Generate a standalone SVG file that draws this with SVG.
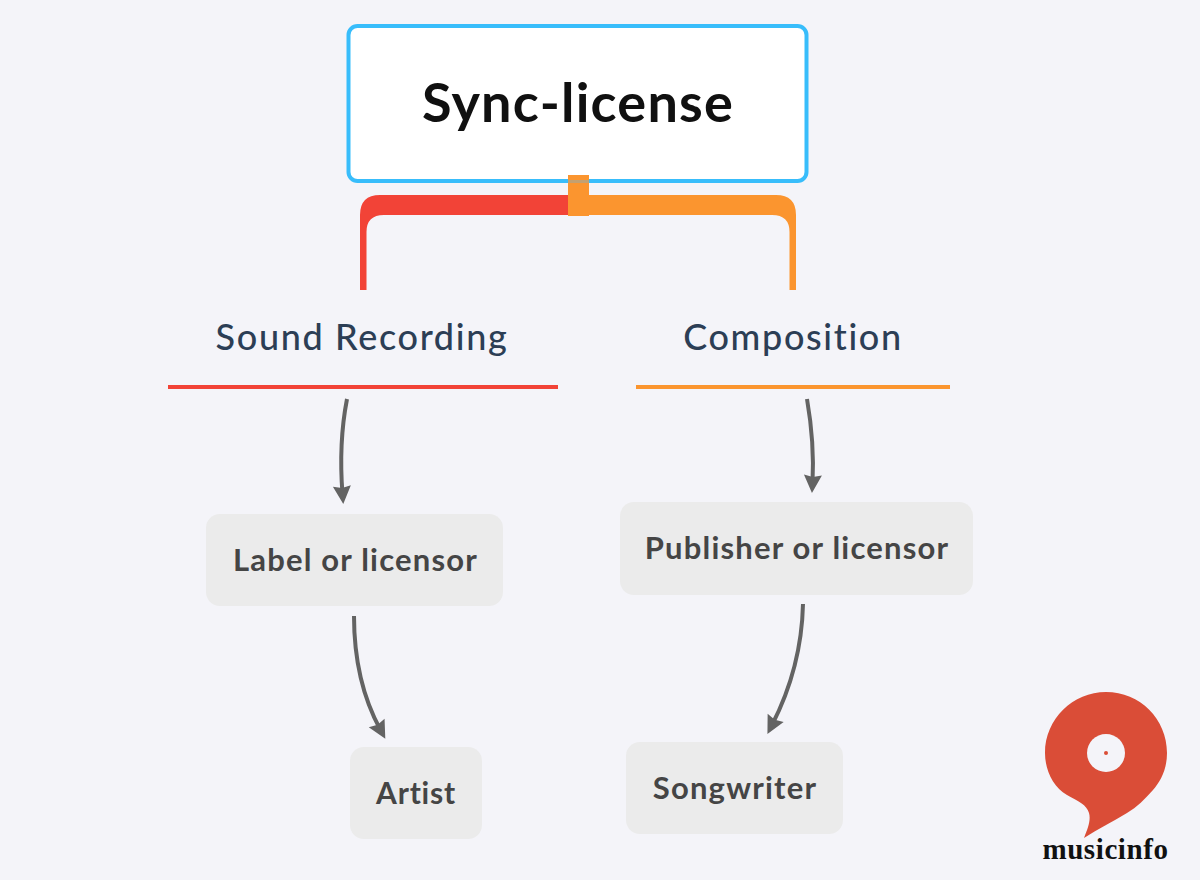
<svg xmlns="http://www.w3.org/2000/svg" width="1200" height="880" viewBox="0 0 1200 880">
<defs>
<marker id="ah" markerUnits="userSpaceOnUse" markerWidth="24" markerHeight="24" refX="9" refY="10" orient="auto"><path d="M1 1 L19 10 L1 19 L3 10 Z" fill="#636363"/></marker>
</defs>
<style>
text{font-family:"Lato","Open Sans",sans-serif}
.child{fill:#ebebeb}
.ct{font-size:31px;font-weight:700;fill:#454545;text-anchor:middle;letter-spacing:1.2px}
.st{font-size:36px;font-weight:500;fill:#2c3e55;text-anchor:middle;letter-spacing:1.65px}
.arrow{fill:none;stroke:#636363;stroke-width:4;marker-end:url(#ah)}
</style>
<rect width="1200" height="880" fill="#f4f4f9"/>
<g id="connectors">
<path d="M578 195 H380 Q360 195 360 215 V290 H366.500 V232 Q366.500 215 384 215 H578 Z" fill="#f24337"/>
<path d="M578 195 H776 Q796 195 796 215 V290 H789.500 V232 Q789.500 215 772 215 H578 Z" fill="#fb952f"/>
<path class="arrow" d="M347 399 C341 430 340 462 342.500 494"/>
<path class="arrow" d="M807 399 C812 428 814 455 812.500 483"/>
<path class="arrow" d="M354 616 C354 662 363 698 380.500 730"/>
<path class="arrow" d="M803 604 C802 648 791 688 772 725"/>
</g>
<g id="root">
<rect x="348.500" y="26" width="458" height="155" rx="9" fill="#fff" stroke="#38bdfb" stroke-width="4"/>
<text x="578" y="122" font-size="54" font-weight="700" fill="#101010" text-anchor="middle" letter-spacing="1.2">Sync-license</text>
</g>
<rect x="568" y="175" width="21" height="41" fill="#fb952f"/>
<rect x="568" y="180" width="21" height="3" fill="#9fa99f" opacity=".6"/>
<g id="sound-recording">
<text class="st" x="362" y="350">Sound Recording</text>
<rect x="168" y="385" width="390" height="4" fill="#f24337"/>
</g>
<g id="composition">
<text class="st" x="793" y="350">Composition</text>
<rect x="636" y="385" width="314" height="4" fill="#fb952f"/>
</g>
<g id="label">
<rect class="child" x="206" y="514" width="297" height="92" rx="14"/>
<text class="ct" x="355.500" y="571">Label or licensor</text>
</g>
<g id="publisher">
<rect class="child" x="620" y="502" width="353" height="93" rx="14"/>
<text class="ct" x="797" y="559">Publisher or licensor</text>
</g>
<g id="artist">
<rect class="child" x="350" y="747" width="132" height="92" rx="14"/>
<text class="ct" x="416" y="804" style="font-size:30px;letter-spacing:.8px">Artist</text>
</g>
<g id="songwriter">
<rect class="child" x="626" y="742" width="217" height="92" rx="14"/>
<text class="ct" x="735" y="799">Songwriter</text>
</g>
<g id="logo">
<path d="M1084 838 C1088 828 1091 820 1089 813 C1087 805 1078 801 1067 795 C1053 787 1045 770 1045 753 C1045 719 1073 692 1106 692 C1140 692 1167 719 1167 753 C1167 770 1160 782 1153 790 C1145 799 1137 807 1127 813 C1112 822 1098 829 1084 838 Z" fill="#da4d37"/>
<circle cx="1106" cy="753" r="19" fill="#f4f4f9"/>
<circle cx="1106" cy="753" r="2" fill="#da4d37"/>
<text x="1105.500" y="859" font-size="29" font-weight="700" fill="#111" text-anchor="middle" letter-spacing=".6" style="font-family:'Liberation Serif',serif">musicinfo</text>
</g>
</svg>
